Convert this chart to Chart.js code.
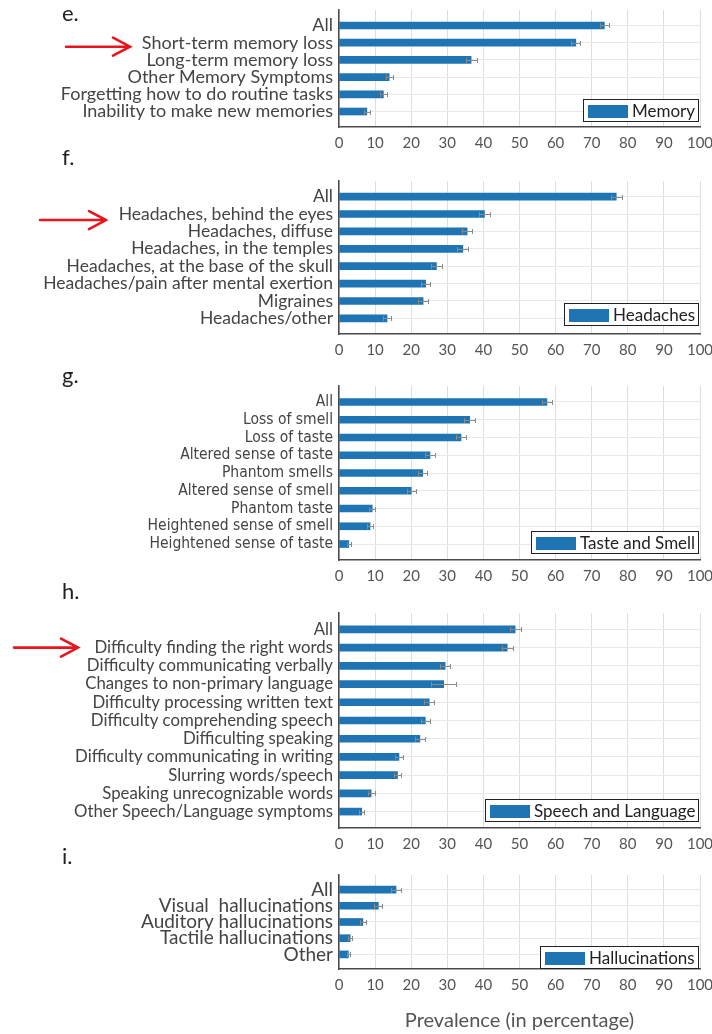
<!DOCTYPE html>
<html>
<head>
<meta charset="utf-8">
<script src="https://cdn.jsdelivr.net/npm/chart.js@4.4.1/dist/chart.umd.min.js"></script>
<style>
  html, body { margin: 0; padding: 0; background: #fff; }
  body { width: 712px; height: 1034px; position: relative; overflow: hidden; }
  .panel { position: absolute; left: 0; width: 712px; }
  .tag { position: absolute; font-family: Lato, "Open Sans", sans-serif; font-size: 22px; line-height: 22px; color: #222; }
</style>
</head>
<body>
<script>
// ---------------- data ----------------
const memoryLabels = ['All', 'Short-term memory loss', 'Long-term memory loss', 'Other Memory Symptoms',
  'Forgetting how to do routine tasks', 'Inability to make new memories'];
const memoryValues = [73.5, 65.6, 36.6, 13.9, 12.3, 7.7];
const memoryErrors = [1.3, 1.2, 1.5, 1.0, 1.0, 0.8];

const headacheLabels = ['All', 'Headaches, behind the eyes', 'Headaches, diffuse', 'Headaches, in the temples',
  'Headaches, at the base of the skull', 'Headaches/pain after mental exertion', 'Migraines', 'Headaches/other'];
const headacheValues = [76.8, 40.3, 35.5, 34.3, 27.0, 24.0, 23.3, 13.3];
const headacheErrors = [1.5, 1.6, 1.3, 1.5, 1.5, 1.3, 1.3, 1.1];

const tasteSmellLabels = ['All', 'Loss of smell', 'Loss of taste', 'Altered sense of taste', 'Phantom smells',
  'Altered sense of smell', 'Phantom taste', 'Heightened sense of smell', 'Heightened sense of taste'];
const tasteSmellValues = [57.6, 36.2, 33.8, 25.2, 23.2, 20.0, 9.2, 8.6, 2.7];
const tasteSmellErrors = [1.4, 1.5, 1.4, 1.3, 1.3, 1.2, 0.9, 0.9, 0.6];

const speechLabels = ['All', 'Difficulty finding the right words', 'Difficulty communicating verbally',
  'Changes to non-primary language', 'Difficulty processing written text', 'Difficulty comprehending speech',
  'Difficulting speaking', 'Difficulty communicating in writing', 'Slurring words/speech',
  'Speaking unrecognizable words', 'Other Speech/Language symptoms'];
const speechValues = [48.8, 46.6, 29.4, 29.0, 25.0, 23.9, 22.4, 16.6, 16.2, 8.9, 6.3];
const speechErrors = [1.5, 1.5, 1.4, 3.5, 1.4, 1.3, 1.4, 1.2, 1.1, 1.0, 0.7];

const hallucinationLabels = ['All', 'Visual  hallucinations', 'Auditory hallucinations', 'Tactile hallucinations', 'Other'];
const hallucinationValues = [15.8, 10.9, 6.6, 3.1, 2.6];
const hallucinationErrors = [1.3, 1.1, 0.8, 0.6, 0.5];

const axisMin = 0;
const axisMax = 100;
const axisStep = 10;
const axisTitle = 'Prevalence (in percentage)';

// ---------------- look ----------------
const BAR_COLOR = '#1f74b4';
const TEXT_FONT = 'Lato, "Open Sans", sans-serif';
const NARROW_FONT = '"Liberation Sans Narrow", "DejaVu Sans Condensed", Lato, sans-serif';
const PLOT_LEFT = 339;
const PLOT_RIGHT_PAD = 12;

// Panel layout: vertical extent of each plot, tag, legend and pointer arrow
const panels = [
  { tag: 'e.', tagX: 62, tagY: 2, labels: memoryLabels, values: memoryValues, errors: memoryErrors,
    legend: 'Memory', top: 10, bottom: 127, legendGap: 6, labelFont: TEXT_FONT, labelSize: 18,
    arrow: { index: 1, from: 66, to: 130, dy: 4 } },
  { tag: 'f.', tagX: 62, tagY: 146, labels: headacheLabels, values: headacheValues, errors: headacheErrors,
    legend: 'Headaches', top: 181, bottom: 334, legendGap: 9, labelFont: TEXT_FONT, labelSize: 17.5,
    arrow: { index: 1, from: 40, to: 106, dy: 6 } },
  { tag: 'g.', tagX: 62, tagY: 364, labels: tasteSmellLabels, values: tasteSmellValues, errors: tasteSmellErrors,
    legend: 'Taste and Smell', top: 386, bottom: 560, legendGap: 7, labelFont: NARROW_FONT, labelSize: 15.5,
    arrow: null },
  { tag: 'h.', tagX: 62, tagY: 580, labels: speechLabels, values: speechValues, errors: speechErrors,
    legend: 'Speech and Language', top: 613, bottom: 828, legendGap: 7, labelFont: TEXT_FONT, labelSize: 16.8,
    arrow: { index: 1, from: 14, to: 78, dy: 0 } },
  { tag: 'i.', tagX: 62, tagY: 845, labels: hallucinationLabels, values: hallucinationValues, errors: hallucinationErrors,
    legend: 'Hallucinations', top: 875, bottom: 969, legendGap: 1, labelFont: TEXT_FONT, labelSize: 19,
    arrow: null, title: axisTitle }
];

// ---------------- plugins ----------------
// whiskers centred on each bar end
const errorBarPlugin = {
  id: 'errorBars',
  afterDatasetsDraw(chart, args, opts) {
    const { ctx } = chart;
    const xs = chart.scales.x, ys = chart.scales.y;
    const ds = chart.data.datasets[0];
    ctx.save();
    ctx.strokeStyle = opts.color;
    ctx.lineWidth = 1;
    ds.data.forEach((pt, i) => {
      const e = opts.errors[i];
      const py = Math.round(ys.getPixelForValue(pt.y)) + 0.5;
      const x0 = Math.round(xs.getPixelForValue(pt.x - e)) + 0.5;
      const x1 = Math.round(xs.getPixelForValue(pt.x + e)) + 0.5;
      ctx.beginPath();
      ctx.moveTo(x0, py); ctx.lineTo(x1, py);
      ctx.moveTo(x0, py - 2.5); ctx.lineTo(x0, py + 2.5);
      ctx.moveTo(x1, py - 2.5); ctx.lineTo(x1, py + 2.5);
      ctx.stroke();
    });
    ctx.restore();
  }
};

// boxed legend in the lower right corner of the plot
const boxLegendPlugin = {
  id: 'boxLegend',
  afterDraw(chart, args, opts) {
    const { ctx, chartArea } = chart;
    const ds = chart.data.datasets[0];
    ctx.save();
    ctx.font = `${opts.size}px ${opts.family}`;
    const tw = ctx.measureText(ds.label).width;
    const h = 22, sw = 40, sh = 13, padL = 5, gap = 4, padR = 3;
    const w = Math.round(padL + sw + gap + tw + padR);
    const right = Math.round(chartArea.right) - 2;
    const bottom = Math.round(chartArea.bottom) - opts.gap;
    const left = right - w, top = bottom - h;
    ctx.fillStyle = '#fff';
    ctx.fillRect(left, top, w, h);
    ctx.strokeStyle = '#222';
    ctx.lineWidth = 1;
    ctx.strokeRect(left + 0.5, top + 0.5, w, h);
    ctx.fillStyle = ds.backgroundColor;
    ctx.fillRect(left + padL, top + Math.round((h - sh) / 2) + 1, sw, sh);
    ctx.fillStyle = '#222';
    ctx.textBaseline = 'middle';
    ctx.textAlign = 'left';
    ctx.fillText(ds.label, left + padL + sw + gap, top + h / 2 + 1.5);
    ctx.restore();
  }
};

// red pointer arrow aimed at one category label
const pointerPlugin = {
  id: 'pointer',
  afterDraw(chart, args, opts) {
    if (opts == null || opts.index == null) return;
    const { ctx } = chart;
    const y = chart.scales.y.getPixelForValue(opts.index) + opts.dy;
    ctx.save();
    ctx.strokeStyle = '#e8161c';
    ctx.lineWidth = 2.6;
    ctx.lineCap = 'round';
    ctx.beginPath();
    ctx.moveTo(opts.from, y); ctx.lineTo(opts.to, y);
    ctx.moveTo(opts.to - 17, y - 9); ctx.lineTo(opts.to, y); ctx.lineTo(opts.to - 17, y + 9);
    ctx.stroke();
    ctx.restore();
  }
};

// ---------------- build panels ----------------
panels.forEach((p) => {
  const padTop = 4;
  const axisH = p.title ? 1034 - p.bottom : 30;
  const canvasTop = p.top - padTop;
  const canvasH = (p.bottom - p.top) + padTop + axisH;

  const tag = document.createElement('div');
  tag.className = 'tag';
  tag.style.left = p.tagX + 'px';
  tag.style.top = p.tagY + 'px';
  tag.textContent = p.tag;

  const wrap = document.createElement('div');
  wrap.className = 'panel';
  wrap.style.top = canvasTop + 'px';
  wrap.style.height = canvasH + 'px';
  const canvas = document.createElement('canvas');
  canvas.width = 712;
  canvas.height = canvasH;
  wrap.appendChild(canvas);
  document.body.appendChild(wrap);
  document.body.appendChild(tag);

  const labels = p.labels;
  const n = labels.length;

  new Chart(canvas, {
    type: 'bar',
    data: {
      datasets: [{
        label: p.legend,
        data: p.values.map((v, i) => ({ x: v, y: i })),
        backgroundColor: BAR_COLOR,
        borderWidth: 0,
        barThickness: 7
      }]
    },
    plugins: [errorBarPlugin, boxLegendPlugin, pointerPlugin],
    options: {
      responsive: false,
      animation: false,
      devicePixelRatio: 1,
      indexAxis: 'y',
      layout: { autoPadding: false, padding: { left: 0, right: PLOT_RIGHT_PAD, top: padTop, bottom: 0 } },
      plugins: {
        legend: { display: false },
        tooltip: { enabled: false },
        errorBars: { errors: p.errors, color: '#8a8a8a' },
        boxLegend: { family: TEXT_FONT, size: 17, gap: p.legendGap },
        pointer: p.arrow ? p.arrow : false
      },
      scales: {
        x: {
          type: 'linear',
          position: 'bottom',
          min: axisMin,
          max: axisMax,
          ticks: { stepSize: axisStep, color: '#555', font: { family: TEXT_FONT, size: 15 }, padding: 7, maxRotation: 0 },
          grid: { color: '#dedede', drawTicks: false },
          border: { color: '#4a4a4a', width: 1.5 },
          title: p.title ? {
            display: true, text: p.title, color: '#555',
            font: { family: TEXT_FONT, size: 20 }, padding: { top: 0, bottom: 1 }
          } : { display: false },
          afterFit(s) { s.height = axisH; s.paddingLeft = 0; s.paddingRight = 0; }
        },
        y: {
          type: 'linear',
          reverse: true,
          offset: false,
          min: -0.9,
          max: n - 1 + 0.9,
          afterBuildTicks(s) { s.ticks = labels.map((_, i) => ({ value: i })); },
          ticks: {
            autoSkip: false,
            callback: (v) => labels[v],
            color: '#444',
            font: { family: p.labelFont, size: p.labelSize },
            padding: 6
          },
          grid: { color: '#e8e8e8', drawTicks: false, offset: false },
          border: { color: '#4a4a4a', width: 1.5 },
          afterFit(s) { s.width = PLOT_LEFT; s.paddingTop = 0; s.paddingBottom = 0; }
        }
      }
    }
  });
});
</script>
</body>
</html>
